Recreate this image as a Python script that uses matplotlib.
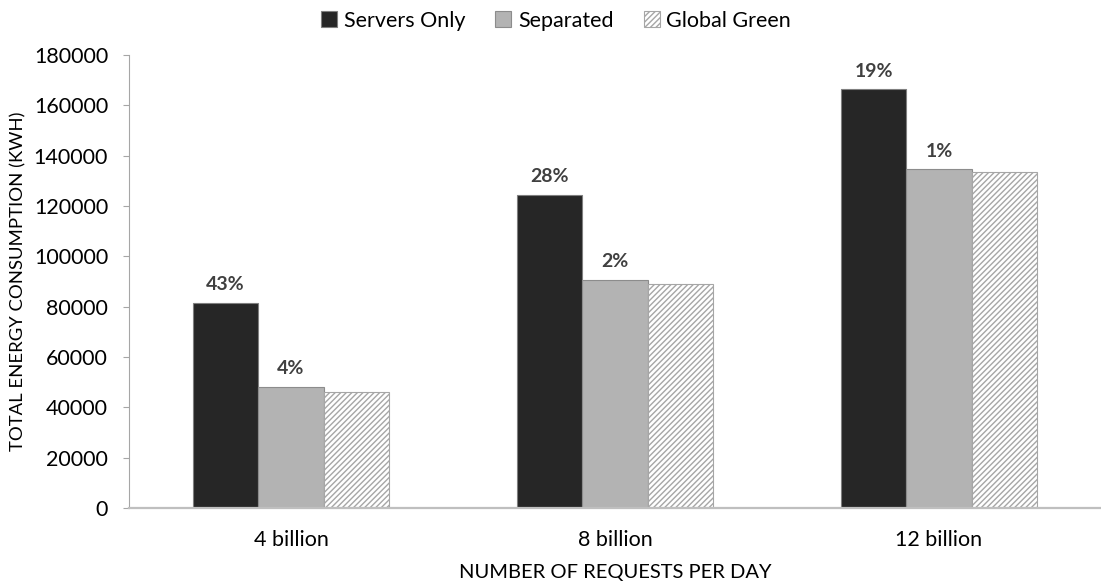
import numpy as np
import matplotlib.pyplot as plt

# energy consumption per scheme (kWh)
categories = ['4 billion', '8 billion', '12 billion']
servers_only = [81500, 124400, 166300]
separated = [48000, 90700, 134600]
global_green = [45900, 88900, 133400]
servers_pct = ['43%', '28%', '19%']
separated_pct = ['4%', '2%', '1%']


def main():
  plt.rcParams['font.family'] = ['Lato', 'DejaVu Sans']
  plt.rcParams['hatch.linewidth'] = 1.0
  plt.rcParams['hatch.color'] = '#a6a6a6'

  fig = plt.figure(figsize=(11.01, 5.84), dpi=100)
  ax = fig.add_axes([129 / 1101, 76 / 584, 972 / 1101, 453 / 584])

  x = np.arange(len(categories))
  w = 0.202

  b1 = ax.bar(x - w, servers_only, w, color='#262626', edgecolor='#7f7f7f', linewidth=0.8, label='Servers Only')
  b2 = ax.bar(x, separated, w, color='#b3b3b3', edgecolor='#8c8c8c', linewidth=0.8, label='Separated')
  b3 = ax.bar(x + w, global_green, w, color='white', edgecolor='#a6a6a6', linewidth=0.8,
              hatch='//////', label='Global Green')

  # percentage labels above the first two series
  for bars, pcts in [(b1, servers_pct), (b2, separated_pct)]:
    for rect, txt in zip(bars, pcts):
      ax.annotate(txt, (rect.get_x() + rect.get_width() / 2, rect.get_height()), xytext=(0, 7),
                  textcoords='offset points', ha='center', va='bottom', fontsize=14,
                  fontweight='bold', color='#404040')

  ax.set_xlim(-0.5, 2.5)
  ax.set_ylim(0, 180000)
  ax.set_yticks(np.arange(0, 180001, 20000))
  ax.set_xticks(x)
  ax.set_xticklabels(categories)
  ax.tick_params(axis='y', labelsize=15.5, length=4, color='#a6a6a6', pad=11)
  ax.tick_params(axis='x', labelsize=15.5, length=0, pad=16)

  for s in ['top', 'right']:
    ax.spines[s].set_visible(False)
  ax.spines['left'].set_color('#a6a6a6')
  ax.spines['bottom'].set_color('#bfbfbf')
  ax.spines['bottom'].set_linewidth(1.6)

  ax.set_xlabel('NUMBER OF REQUESTS PER DAY', fontsize=14.5)
  ax.xaxis.set_label_coords(0.5, -0.124)
  ax.set_ylabel('TOTAL ENERGY CONSUMPTION (KWH)', fontsize=13.3)
  ax.yaxis.set_label_coords(-0.106, 0.5)

  fig.legend(handles=[b1, b2, b3], loc='upper center', bbox_to_anchor=(0.505, 1.015), ncol=3,
             frameon=False, fontsize=15.5, handlelength=0.75, handleheight=0.75,
             handletextpad=0.3, columnspacing=1.4)

  fig.savefig('out.png', dpi=100, facecolor='w')
  plt.close('all')


if __name__ == '__main__':
  main()
